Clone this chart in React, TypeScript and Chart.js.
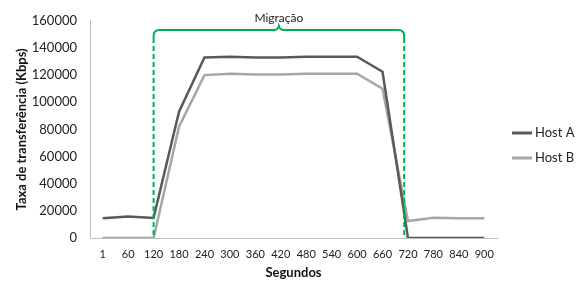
import React, { useEffect, useRef } from "react";
import { Chart, registerables } from "chart.js";

Chart.register(...registerables);

const categories = ["1", "60", "120", "180", "240", "300", "360", "420", "480", "540", "600", "660", "720", "780", "840", "900"];
const hostA = [14500, 15800, 14800, 93000, 133000, 133500, 133000, 133000, 133500, 133500, 133500, 122500, 0, 0, 0, 0];
const hostB = [0, 0, 0, 82000, 120000, 121000, 120500, 120500, 121000, 121000, 121000, 110000, 12500, 15000, 14500, 14500];
const yTicks = [0, 20000, 40000, 60000, 80000, 100000, 120000, 140000, 160000];
const bracketLabel = "Migração";
const bracketStart = 2; // category index of 120
const bracketEnd = 11.85; // just before 720

const FONT = "Lato, 'Open Sans', sans-serif";

const bracketPlugin = {
  id: "bracket",
  afterDatasetsDraw(chart: any) {
    const { ctx, scales, chartArea } = chart;
    const xs = scales.x;
    const x1 = xs.getPixelForValue(bracketStart);
    const x2 = xs.getPixelForValue(bracketEnd);
    const top = 30;
    const bottom = chartArea.bottom;
    const r = 6;
    const mid = (x1 + x2) / 2;
    ctx.save();
    ctx.strokeStyle = "#00B050";
    ctx.lineWidth = 2;
    ctx.setLineDash([]);
    ctx.beginPath();
    ctx.moveTo(x1, top + r + 2);
    ctx.lineTo(x1, top + r);
    ctx.quadraticCurveTo(x1, top, x1 + r, top);
    ctx.lineTo(mid - 5, top);
    ctx.quadraticCurveTo(mid - 1, top, mid, top - 4);
    ctx.quadraticCurveTo(mid + 1, top, mid + 5, top);
    ctx.lineTo(x2 - r, top);
    ctx.quadraticCurveTo(x2, top, x2, top + r);
    ctx.lineTo(x2, top + r + 2);
    ctx.stroke();
    ctx.setLineDash([5, 3]);
    ctx.beginPath();
    ctx.moveTo(x1, top + r + 2);
    ctx.lineTo(x1, bottom);
    ctx.moveTo(x2, top + r + 2);
    ctx.lineTo(x2, bottom);
    ctx.stroke();
    ctx.setLineDash([]);
    ctx.fillStyle = "#222";
    ctx.font = "12px " + FONT;
    ctx.textAlign = "center";
    ctx.textBaseline = "middle";
    ctx.fillText(bracketLabel, mid, 18);
    ctx.restore();
  },
};

const legendPlugin = {
  id: "sideLegend",
  afterDraw(chart: any) {
    const { ctx, chartArea } = chart;
    const x0 = chartArea.right + 15;
    const yStart = 133;
    const step = 25;
    ctx.save();
    chart.data.datasets.forEach((ds: any, i: number) => {
      const y = yStart + i * step;
      ctx.strokeStyle = ds.borderColor;
      ctx.lineWidth = 3;
      ctx.beginPath();
      ctx.moveTo(x0, y);
      ctx.lineTo(x0 + 20, y);
      ctx.stroke();
      ctx.fillStyle = "#222";
      ctx.font = "13px " + FONT;
      ctx.textAlign = "left";
      ctx.textBaseline = "middle";
      ctx.fillText(ds.label, x0 + 23, y);
    });
    ctx.restore();
  },
};

export default function App() {
  const ref = useRef<HTMLCanvasElement | null>(null);
  useEffect(() => {
    if (!ref.current) return;
    const chart = new Chart(ref.current, {
      type: "line",
      data: {
        labels: categories,
        datasets: [
          {
            label: "Host A",
            data: hostA,
            borderColor: "#595959",
            backgroundColor: "#595959",
            borderWidth: 2.5,
            pointRadius: 0,
            tension: 0,
          },
          {
            label: "Host B",
            data: hostB,
            borderColor: "#A6A6A6",
            backgroundColor: "#A6A6A6",
            borderWidth: 2.5,
            pointRadius: 0,
            tension: 0,
          },
        ],
      },
      options: {
        responsive: false,
        animation: false,
        layout: { padding: { left: 0, right: 81, top: 14, bottom: 0 } },
        plugins: {
          legend: { display: false },
          tooltip: { enabled: false },
        },
        scales: {
          x: {
            offset: true,
            afterFit: (s: any) => { s.height = 48; },
            grid: { display: false, drawTicks: false },
            border: { color: "#BFBFBF", width: 1 },
            ticks: { color: "#222", font: { family: FONT, size: 11 }, padding: 10, maxRotation: 0, autoSkip: false },
            title: { display: true, text: "Segundos", color: "#111", font: { family: FONT, size: 13, weight: "bold" }, padding: { top: 0, bottom: 5 } },
          },
          y: {
            min: 0,
            max: 160000,
            afterFit: (s: any) => { s.width = 90; },
            afterBuildTicks: (s: any) => { s.ticks = yTicks.map((v) => ({ value: v })); },
            grid: { display: false, drawTicks: false },
            border: { color: "#BFBFBF", width: 1 },
            ticks: { color: "#222", font: { family: FONT, size: 13 }, padding: 13, callback: (v: any) => String(v) },
            title: { display: true, text: "Taxa de transferência (Kbps)", color: "#111", font: { family: FONT, size: 13, weight: "bold" }, padding: { top: 14, bottom: 0 } },
          },
        },
      },
      plugins: [bracketPlugin, legendPlugin],
    });
    return () => chart.destroy();
  }, []);
  return (
    <div style={{ position: "fixed", left: 0, top: 0, width: 578, height: 286, background: "#fff" }}>
      <canvas ref={ref} width={578} height={286} />
    </div>
  );
}
